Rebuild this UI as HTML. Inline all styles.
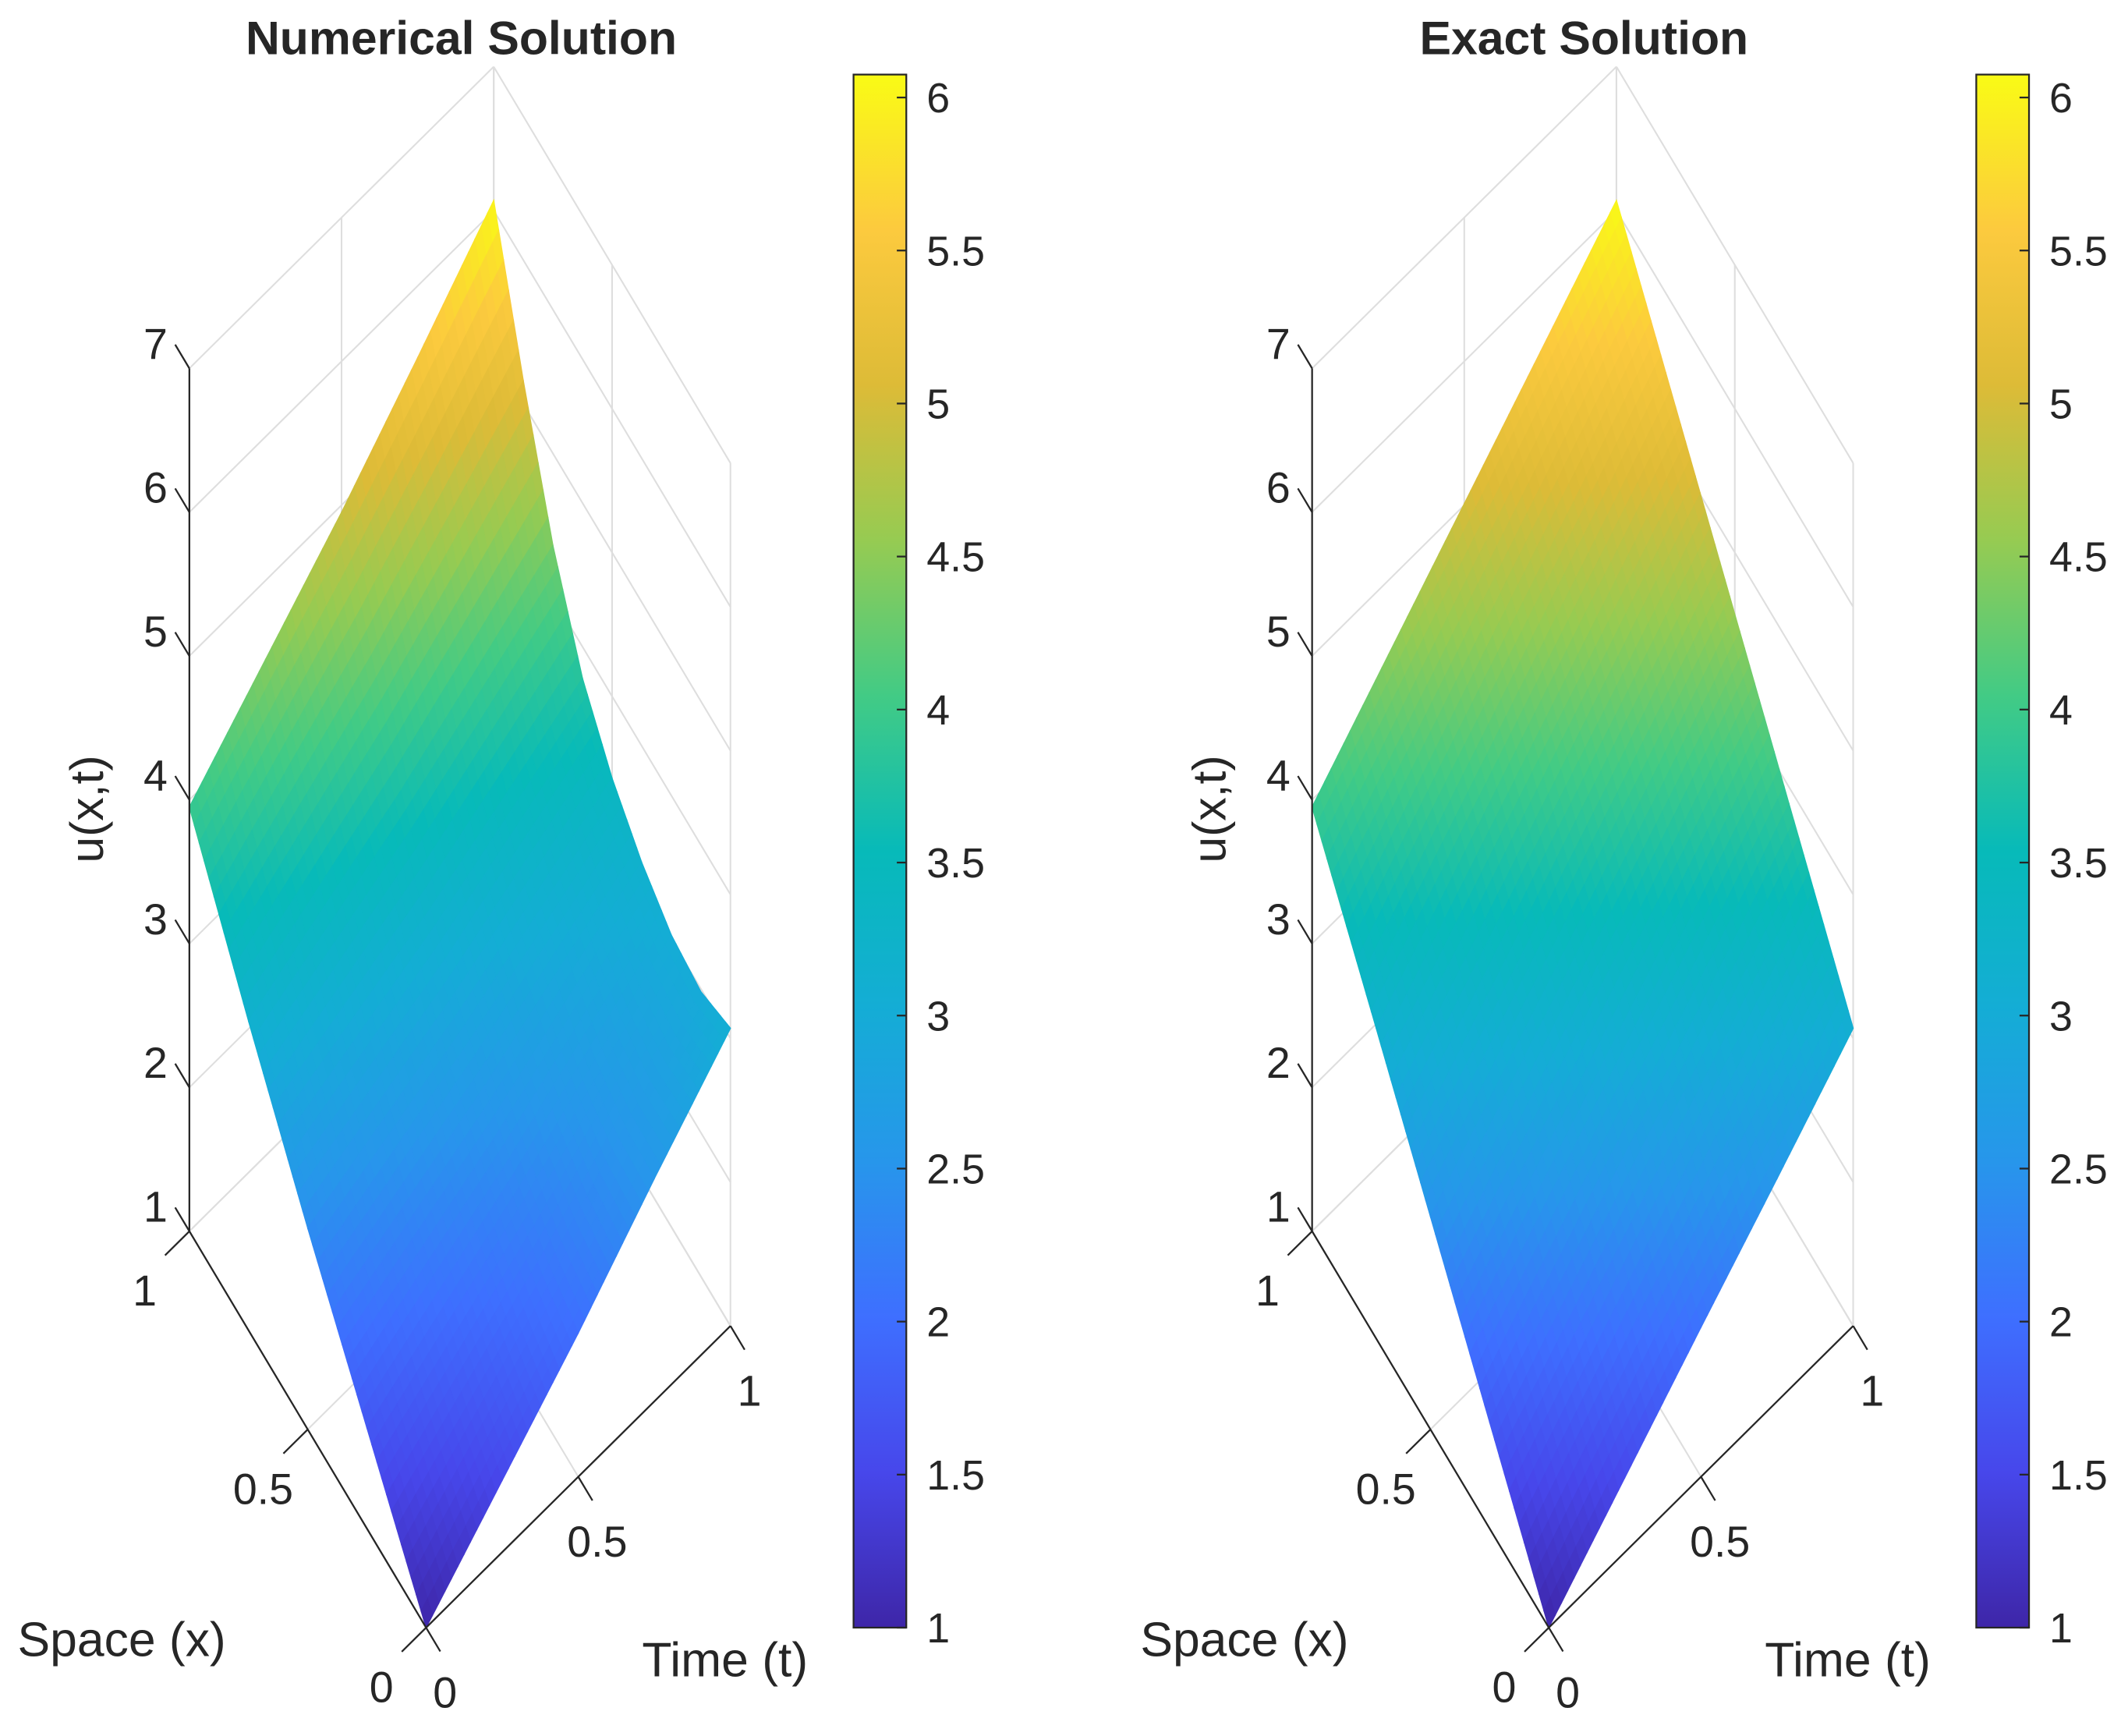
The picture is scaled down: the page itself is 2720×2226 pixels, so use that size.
<!DOCTYPE html>
<html><head><meta charset="utf-8"><title>Numerical vs Exact Solution</title>
<style>html,body{margin:0;padding:0;background:#fff;}svg{display:block;}text{font-family:"Liberation Sans",sans-serif;fill:#262626;}</style>
</head><body>
<svg id="fig" width="2720" height="2226" viewBox="0 0 1568 1283" xmlns="http://www.w3.org/2000/svg">
<defs>
<linearGradient id="parula" x1="0" y1="1" x2="0" y2="0">
<stop offset="0" stop-color="#3e26a8"/><stop offset="0.1" stop-color="#4747eb"/><stop offset="0.2" stop-color="#3e6fff"/><stop offset="0.3" stop-color="#2796eb"/><stop offset="0.4" stop-color="#14add5"/><stop offset="0.5" stop-color="#07bab9"/><stop offset="0.6" stop-color="#42cb85"/><stop offset="0.7" stop-color="#96cb52"/><stop offset="0.8" stop-color="#ddbb37"/><stop offset="0.9" stop-color="#fcca3e"/><stop offset="1" stop-color="#f9fb15"/>
</linearGradient>
</defs>
</svg>
<script>
// ---- data ----
const numUt0 = [1, 1.7, 2.4, 3.15, 3.95];
const numUt1 = [3.07, 2.98, 3.03, 3.19, 3.43, 3.78, 4.36, 5.16, 6.07];
const numUx0 = [1, 1.5, 2.0, 2.55, 3.07];
const numUx1 = [3.95, 4.45, 4.95, 5.5, 6.07];
const exUt0 = [1, 1.74, 2.48, 3.22, 3.95];
const exUt1 = [3.07, 3.82, 4.57, 5.32, 6.07];
const exUx0 = [1, 1.52, 2.04, 2.55, 3.07];
const exUx1 = [3.95, 4.48, 5.01, 5.54, 6.07];
const zTicks = [1, 2, 3, 4, 5, 6, 7];
const xyTicks = [0, 0.5, 1];
const xyTickLabels = ['0', '0.5', '1'];
const cbTicks = [1, 1.5, 2, 2.5, 3, 3.5, 4, 4.5, 5, 5.5, 6];
const cbTickLabels = ['1', '1.5', '2', '2.5', '3', '3.5', '4', '4.5', '5', '5.5', '6'];
const cbMin = 1, cbMax = 6.075;

const NS = 'http://www.w3.org/2000/svg';
const svg = document.getElementById('fig');
const parulaStops = [[62,38,168],[71,71,235],[62,111,255],[39,150,235],[20,173,213],[7,186,185],[66,203,133],[150,203,82],[221,187,55],[252,202,62],[249,251,21]];
function parula(v){
  let f = (v - cbMin) / (cbMax - cbMin); f = Math.max(0, Math.min(1, f));
  const p = f * 10, i = Math.min(9, Math.floor(p)), r = p - i;
  const a = parulaStops[i], b = parulaStops[i+1];
  return 'rgb(' + [0,1,2].map(k => Math.round(a[k] + (b[k]-a[k])*r)).join(',') + ')';
}
function interp(arr, s){
  const p = s * (arr.length - 1), i = Math.min(arr.length - 2, Math.floor(p)), r = p - i;
  return arr[i] + (arr[i+1] - arr[i]) * r;
}
function el(tag, attrs, parent){
  const e = document.createElementNS(NS, tag);
  for (const k in attrs) e.setAttribute(k, attrs[k]);
  (parent || svg).appendChild(e);
  return e;
}
function txt(s, x, y, size, anchor, parent){
  const t = el('text', {x: x, y: y, 'font-size': size, 'text-anchor': anchor || 'middle'}, parent);
  t.textContent = s;
  return t;
}

function drawPanel(dx, title, ut0, ut1, ux0, ux1, prefix){
  const g = el('g', {});
  
  
  const unit = 106.3;
  function P(x, t, z){
    return [dx + 315 - 175*x + 225*t, 1203 - 293*x - 223*t - (z-1)*unit];
  }
  function line(a, b, stroke, w, parent){
    return el('line', {x1: a[0], y1: a[1], x2: b[0], y2: b[1], stroke: stroke, 'stroke-width': w}, parent);
  }
  const grid = el('g', {}, g);
  
  
  const gc = '#dedede';
  zTicks.forEach(z => { line(P(1,0,z), P(1,1,z), gc, 1.2, grid); line(P(1,1,z), P(0,1,z), gc, 1.2, grid); });
  xyTicks.forEach(v => {
    line(P(1,v,1), P(1,v,7), gc, 1.2, grid);
    line(P(v,1,1), P(v,1,7), gc, 1.2, grid);
    line(P(v,0,1), P(v,1,1), gc, 1.2, grid);
    line(P(0,v,1), P(1,v,1), gc, 1.2, grid);
  });
  const surf = el('g', {}, g);
  
  
  const c00 = ut0[0], c10 = ut0[ut0.length-1], c01 = ut1[0], c11 = ut1[ut1.length-1];
  function U(x, t){
    return (1-t)*interp(ut0, x) + t*interp(ut1, x) + (1-x)*interp(ux0, t) + x*interp(ux1, t)
      - ((1-x)*(1-t)*c00 + x*(1-t)*c10 + (1-x)*t*c01 + x*t*c11);
  }
  const N = 48, quads = [];
  for (let i = 0; i < N; i++) for (let j = 0; j < N; j++) quads.push([i, j]);
  quads.sort((a, b) => (b[0] + b[1]) - (a[0] + a[1]));
  quads.forEach(([i, j]) => {
    const x0 = i/N, x1 = (i+1)/N, t0 = j/N, t1 = (j+1)/N;
    const pts = [[x0,t0],[x1,t0],[x1,t1],[x0,t1]].map(([x,t]) => P(x, t, U(x, t)));
    const col = parula(U((x0+x1)/2, (t0+t1)/2));
    el('polygon', {points: pts.map(p => p[0].toFixed(2) + ',' + p[1].toFixed(2)).join(' '), fill: col, stroke: col, 'stroke-width': 0.8}, surf);
  });
  const ax = el('g', {}, g);
  
  
  line(P(1,0,1), P(1,0,7), '#262626', 1.3, ax);
  line(P(0,0,1), P(1,0,1), '#262626', 1.3, ax);
  line(P(0,0,1), P(0,1,1), '#262626', 1.3, ax);
  zTicks.forEach(z => {
    const p = P(1,0,z), q = P(1.06,0,z);
    line(p, q, '#262626', 1.3, ax);
    const t = txt(String(z), p[0] - 25, p[1] - 7, 32, 'middle', ax);
    
    
  });
  xyTicks.forEach((v, k) => {
    const p = P(v,0,1), q = P(v,-0.08,1);
    line(p, q, '#262626', 1.3, ax);
    const t = txt(xyTickLabels[k], p[0] - 33, p[1] + 55, 32, 'middle', ax);
    
    
    const p2 = P(0,v,1), q2 = P(-0.06,v,1);
    line(p2, q2, '#262626', 1.3, ax);
    const t2 = txt(xyTickLabels[k], p2[0] + 14, p2[1] + 59, 32, 'middle', ax);
    
    
  });
  const xl = txt('Space (x)', dx + 90, 1224, 36, 'middle', ax);
  
  
  const tl = txt('Time (t)', dx + 536, 1239, 36, 'middle', ax);
  
  
  const zl = txt('u(x,t)', 0, 0, 35, 'middle', ax);
  zl.setAttribute('transform', 'translate(' + (dx + 76) + ',598) rotate(-90)');
  
  
  const ti = txt(title, dx + 341, 40, 35, 'middle', ax);
  ti.setAttribute('font-weight', 'bold');
  ti.setAttribute('fill', '#000');
  
  
  const cb = el('g', {}, g);
  
  
  const cbX = dx + 631, cbW = 39, cbTop = 55, cbBot = 1203;
  const cy = v => cbBot - (v - cbMin) / (cbMax - cbMin) * (cbBot - cbTop);
  el('rect', {x: cbX, y: cbTop, width: cbW, height: cbBot - cbTop, fill: 'url(#parula)', stroke: '#262626', 'stroke-width': 1.3}, cb);
  cbTicks.forEach((v, k) => {
    line([cbX + cbW - 7, cy(v)], [cbX + cbW, cy(v)], '#262626', 1.3, cb);
    const t = txt(cbTickLabels[k], cbX + 54, cy(v) + 11, 31, 'start', cb);
    
    
  });
}
drawPanel(0, 'Numerical Solution', numUt0, numUt1, numUx0, numUx1, 'numerical');
drawPanel(830, 'Exact Solution', exUt0, exUt1, exUx0, exUx1, 'exact');
</script>
</body></html>
